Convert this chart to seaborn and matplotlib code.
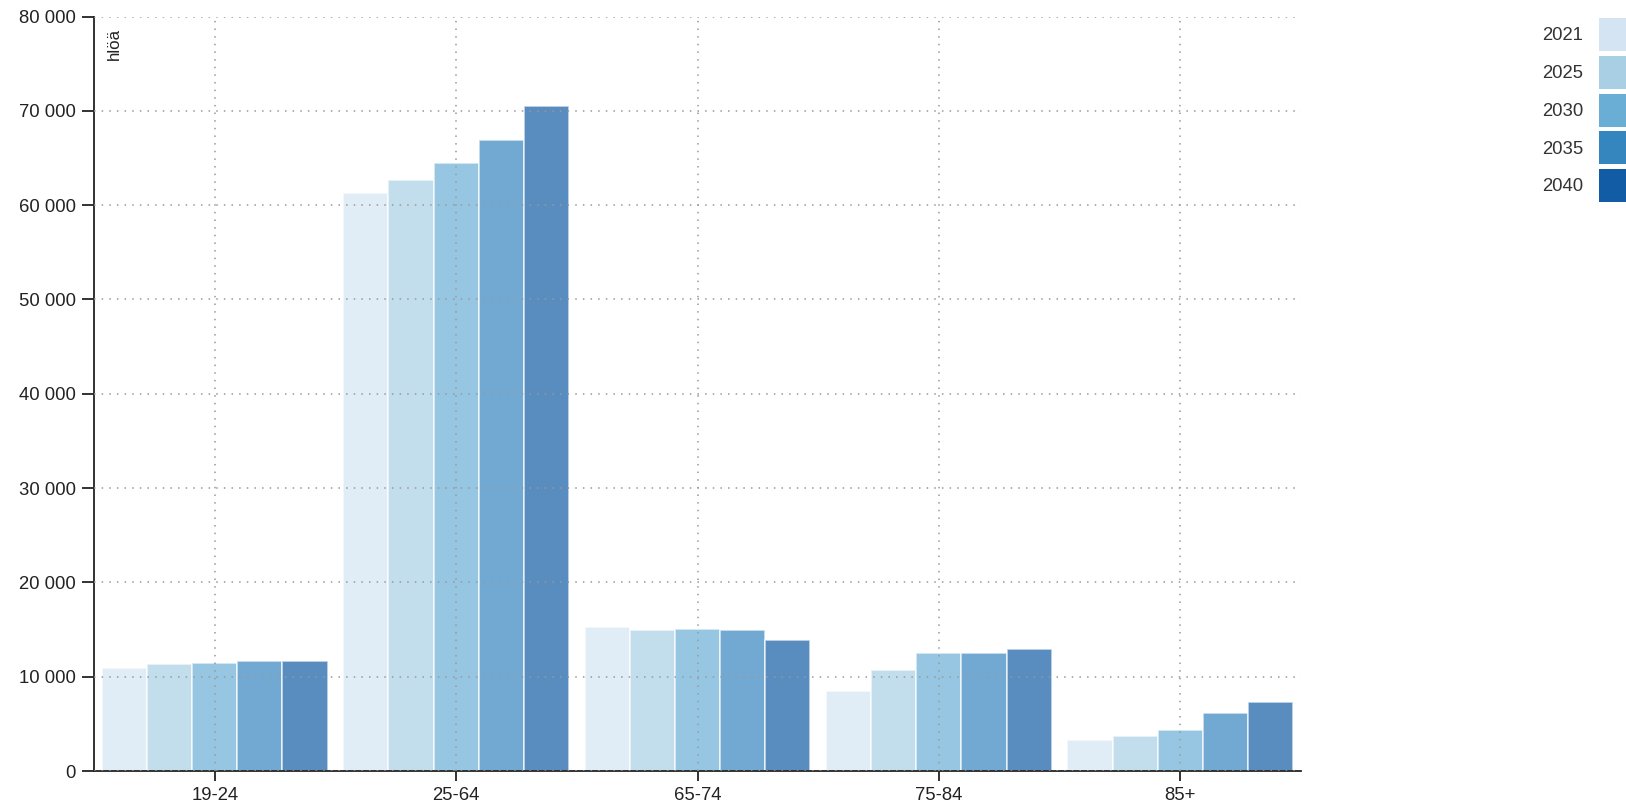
import matplotlib
matplotlib.use("Agg")
import matplotlib.pyplot as plt
import seaborn as sns
import pandas as pd
from matplotlib.patches import Patch
from matplotlib.ticker import FuncFormatter, FixedLocator

categories = ["19-24", "25-64", "65-74", "75-84", "85+"]
years = ["2021", "2025", "2030", "2035", "2040"]
values = {
    "2021": [10900, 61300, 15300, 8500, 3300],
    "2025": [11300, 62700, 14900, 10700, 3750],
    "2030": [11500, 64500, 15100, 12550, 4350],
    "2035": [11700, 66900, 14900, 12550, 6100],
    "2040": [11700, 70500, 13900, 12900, 7300],
}
colors = ["#d4e4f3", "#a9cfe5", "#6aaed6", "#3585bf", "#125ca5"]
y_label = "hlöä"

rows = []
for y in years:
    for c, v in zip(categories, values[y]):
        rows.append({"ikä": c, "vuosi": y, "arvo": v})
df = pd.DataFrame(rows)

sns.set_style("white")
plt.rcParams["font.family"] = ["Liberation Sans", "DejaVu Sans"]

fig = plt.figure(figsize=(16.26, 8.02), dpi=100)
ax = fig.add_axes([94 / 1626, 1 - 771 / 802, (1301 - 94) / 1626, (771 - 16.5) / 802])

sns.barplot(data=df, x="ikä", y="arvo", hue="vuosi", order=categories, hue_order=years,
            palette=colors, saturation=1, width=0.935, alpha=0.7, edgecolor="white",
            linewidth=1.2, legend=False, ax=ax)

ax.set_xlim(-0.5, len(categories) - 0.5)
ax.set_ylim(0, 80000)
ax.yaxis.set_major_locator(FixedLocator(range(0, 80001, 10000)))
ax.yaxis.set_major_formatter(FuncFormatter(lambda v, p: f"{int(v):,}".replace(",", " ")))
ax.set_xlabel("")
ax.set_ylabel("")

for s in ["top", "right"]:
    ax.spines[s].set_visible(False)
for s in ["left", "bottom"]:
    ax.spines[s].set_color("#222222")
    ax.spines[s].set_linewidth(1.3)

ax.set_axisbelow(False)
ax.grid(True, axis="both", color="#999999", linestyle=(0, (1, 4)), linewidth=1.1)
ax.tick_params(axis="both", which="major", width=1.3, color="#222222",
               labelsize=13.3, labelcolor="#222222", direction="out", pad=4.3)
ax.tick_params(axis="y", which="major", length=8.6)
ax.tick_params(axis="x", which="major", length=7.2)
ax.set_xticks([-0.5, len(categories) - 0.5], minor=True)
ax.tick_params(axis="x", which="minor", length=7.2, width=1.3, color="#222222")
ax.tick_params(axis="y", left=True)
ax.tick_params(axis="x", bottom=True)

ax.text(0.0166, 0.985, y_label, transform=ax.transAxes, rotation=90, ha="center", va="top",
        fontsize=12.2, color="#222222")

handles = [Patch(facecolor=c, edgecolor="none", label=y) for c, y in zip(colors, years)]
fig.legend(handles=handles, loc="upper left", bbox_to_anchor=(1542 / 1626, 1 - 18 / 802),
           frameon=False, markerfirst=False, fontsize=13.3, handlelength=2.0, handleheight=2.37,
           handletextpad=0.87, labelspacing=0.26, borderpad=0, borderaxespad=0,
           labelcolor="#333333")

fig.savefig("out.png", dpi=100)
